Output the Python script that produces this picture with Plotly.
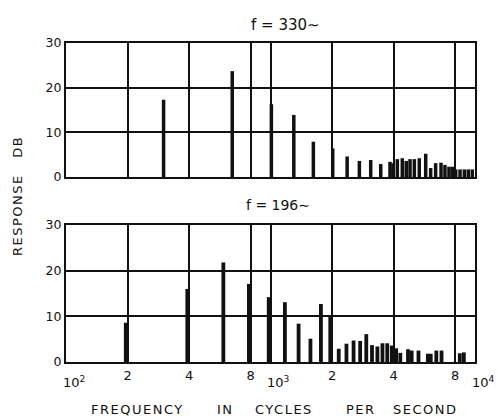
import math
import plotly.graph_objects as go

# Top panel: f = 330 ~
top_freq = [300, 650, 1010, 1300, 1620, 2015, 2370, 2720, 3090, 3460, 3840, 3970,
            4170, 4410, 4610, 4810, 5050, 5340, 5740, 6070, 6420, 6820, 7130, 7460,
            7750, 8050, 8450, 8870, 9270, 9700]
top_db = [17.3, 23.7, 16.3, 13.9, 7.9, 6.4, 4.6, 3.6, 3.8, 2.9, 3.4, 3.1,
          4.0, 4.2, 3.6, 4.0, 4.0, 4.2, 5.2, 2.0, 3.1, 3.2, 2.7, 2.3,
          2.3, 1.7, 1.7, 1.7, 1.7, 1.7]

# Bottom panel: f = 196 ~
bot_freq = [196, 392, 588, 784, 980, 1176, 1372, 1568, 1764, 1960, 2156, 2352,
            2548, 2744, 2940, 3136, 3332, 3528, 3724, 3920, 4116, 4312, 4704, 4900,
            5292, 5880, 6076, 6468, 6860, 8428, 8820]
bot_db = [8.6, 16.0, 21.8, 17.1, 14.2, 13.1, 8.4, 5.1, 12.7, 9.9, 2.9, 4.0,
          4.7, 4.6, 6.1, 3.7, 3.4, 4.1, 4.1, 3.6, 3.0, 2.0, 2.8, 2.5,
          2.5, 1.8, 1.8, 2.5, 2.5, 1.9, 2.1]

grid_vals = [100, 200, 400, 800, 1000, 2000, 4000, 8000, 10000]
grid_text = ["", "2", "4", "8", "", "2", "4", "8", ""]
y_ticks = [0, 10, 20, 30]
decade_labels = [(100, "10<sup>2</sup>"), (1000, "10<sup>3</sup>"), (10000, "10<sup>4</sup>")]

titles = ["f = 330∼", "f = 196∼"]
axis_words = ["FREQUENCY", "IN", "CYCLES", "PER", "SECOND"]


def stems(freqs, vals):
    xs, ys = [], []
    for f, v in zip(freqs, vals):
        xs += [f, f, None]
        ys += [0, v, None]
    return xs, ys


FONT = "DejaVu Sans"
INK = "#111111"
W, H = 498, 416
L, R, T, B = 66, 23, 43, 54
PW, PH = W - L - R, H - T - B


def px_x(px):
    return (px - L) / PW


def px_y(py):
    return (H - B - py) / PH


def spaced(t, sp):
    return '<span style="letter-spacing:%spx">%s</span>' % (sp, t)


fig = go.Figure()
x1, y1 = stems(top_freq, top_db)
fig.add_trace(go.Scatter(x=x1, y=y1, mode="lines", line=dict(color=INK, width=3.5),
                         xaxis="x", yaxis="y", showlegend=False, hoverinfo="skip"))
x2, y2 = stems(bot_freq, bot_db)
fig.add_trace(go.Scatter(x=x2, y=y2, mode="lines", line=dict(color=INK, width=3.8),
                         xaxis="x2", yaxis="y2", showlegend=False, hoverinfo="skip"))

common_x = dict(type="log", range=[2, 4], tickvals=grid_vals, ticktext=grid_text,
                showgrid=True, gridcolor=INK, gridwidth=1.6, showline=True, mirror=True,
                linecolor=INK, linewidth=2.2, ticks="", zeroline=False,
                tickfont=dict(family=FONT, size=13, color=INK))
common_y = dict(range=[0, 30], tickvals=y_ticks, showgrid=True, gridcolor=INK, gridwidth=1.6,
                showline=True, mirror=True, linecolor=INK, linewidth=2.2, ticks="",
                zeroline=False, tickfont=dict(family=FONT, size=12.5, color=INK))

fig.update_layout(
    width=W, height=H,
    margin=dict(l=L, r=R, t=T, b=B),
    paper_bgcolor="white", plot_bgcolor="white",
    xaxis=dict(common_x, anchor="y", showticklabels=False),
    yaxis=dict(common_y, domain=[px_y(177), 1.0], anchor="x"),
    xaxis2=dict(common_x, anchor="y2"),
    yaxis2=dict(common_y, domain=[0.0, px_y(225)], anchor="x2"),
    font=dict(family=FONT, color=INK),
)

ann = []
ann.append(dict(text=titles[0], xref="paper", yref="paper", x=px_x(285), y=px_y(25),
                xanchor="center", yanchor="middle",
                showarrow=False, font=dict(size=15, family=FONT, color=INK)))
ann.append(dict(text=titles[1], xref="paper", yref="paper", x=px_x(278), y=px_y(205),
                xanchor="center", yanchor="middle",
                showarrow=False, font=dict(size=14, family=FONT, color=INK)))
for f, t in decade_labels:
    ann.append(dict(text=t, xref="x2", yref="paper", x=math.log10(f), y=0, yanchor="top",
                    xanchor="center", xshift=8, yshift=-10, showarrow=False,
                    font=dict(size=13, family=FONT, color=INK)))
word_x = [137, 225, 284, 361, 425]
for w, px in zip(axis_words, word_x):
    ann.append(dict(text=spaced(w, 1.5), xref="paper", yref="paper", x=px_x(px), y=px_y(409),
                    xanchor="center", yanchor="middle",
                    showarrow=False, font=dict(size=13, family=FONT, color=INK)))
ann.append(dict(text=spaced("RESPONSE", 1.5) + "&nbsp;&nbsp;&nbsp;&nbsp;" + spaced("DB", 1.5),
                xref="paper", yref="paper",
                x=px_x(18), y=px_y(196), textangle=-90, xanchor="center", yanchor="middle",
                showarrow=False, font=dict(size=13, family=FONT, color=INK)))
fig.update_layout(annotations=ann)

fig.write_html("out.html")
